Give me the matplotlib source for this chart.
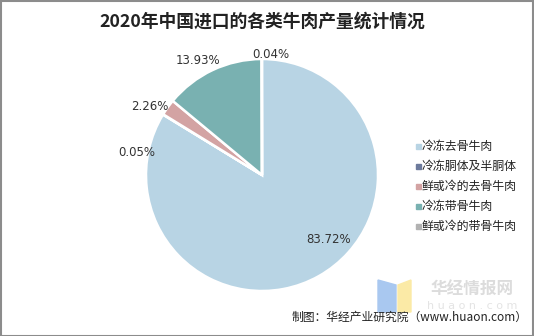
import matplotlib.pyplot as plt
from matplotlib.patches import Rectangle, Polygon

plt.rcParams['font.family'] = ['Noto Sans CJK SC', 'DejaVu Sans']

# data
categories = ['冷冻去骨牛肉', '冷冻胴体及半胴体', '鲜或冷的去骨牛肉', '冷冻带骨牛肉', '鲜或冷的带骨牛肉']
shares = [83.72, 0.05, 2.26, 13.93, 0.04]
colors = ['#b8d4e4', '#6c7a9c', '#d3a3a3', '#79b1b1', '#b2b2b2']
# label spots (pie radius = 1)
label_pos = [(0.57, -0.56), (-1.08, 0.19), (-0.97, 0.59), (-0.55, 0.99), (0.08, 1.04)]

fig = plt.figure(figsize=(5.34, 3.36), dpi=100)
W, H = 534, 336
r_px = 116
cx, cy = 262, 175
half = r_px * 1.25
ax = fig.add_axes([(cx - half) / W, (H - cy - half) / H, 2 * half / W, 2 * half / H])

wedges, _ = ax.pie(shares, colors=colors, startangle=90, counterclock=False, radius=1,
                   wedgeprops=dict(edgecolor='white', linewidth=1.8))
ax.set_xlim(-1.25, 1.25)
ax.set_ylim(-1.25, 1.25)
ax.set_aspect('equal')
ax.axis('off')

for val, (x, y) in zip(shares, label_pos):
    ax.text(x, y, f'{val:.2f}%', ha='center', va='center', fontsize=8.5,
            color='#333333', family='DejaVu Sans')

# legend
for i, (name, c) in enumerate(zip(categories, colors)):
    ypx = 146 + i * 20
    fig.patches.append(Rectangle((416 / W, 1 - (ypx + 2.5) / H), 5 / W, 5 / H,
                                 transform=fig.transFigure, color=c))
    fig.text(422 / W, 1 - ypx / H, name, fontsize=8.6, va='center', ha='left', color='#222222')

fig.text(262 / W, 1 - 22 / H, '2020年中国进口的各类牛肉产量统计情况', ha='center', va='center',
         fontsize=12.8, fontweight='bold', color='#222222')

# watermark
fig.patches.append(Polygon([(378 / W, 1 - 280 / H), (396 / W, 1 - 285 / H), (396 / W, 1 - 312 / H), (378 / W, 1 - 312 / H)],
                           closed=True, transform=fig.transFigure, color='#a9c8f0'))
fig.patches.append(Polygon([(398 / W, 1 - 285 / H), (411 / W, 1 - 280 / H), (411 / W, 1 - 312 / H), (398 / W, 1 - 312 / H)],
                           closed=True, transform=fig.transFigure, color='#fbeaa6'))
fig.text(472 / W, 1 - 290 / H, '华经情报网', ha='center', va='center', fontsize=12,
         fontweight='bold', color='#dcdcdc')
fig.text(472 / W, 1 - 306 / H, 'h u a o n . c o m', ha='center', va='center', fontsize=8,
         color='#e4e4e4', family='DejaVu Sans')

fig.text(528 / W, 1 - 317 / H, '制图：华经产业研究院（www.huaon.com）', ha='right', va='center',
         fontsize=8.5, color='#222222')

# outer frame
fig.patches.append(Rectangle((0.5 / W, 0.5 / H), 1 - 1.5 / W, 1 - 1.5 / H, transform=fig.transFigure,
                             fill=False, edgecolor='#8c8c8c', linewidth=1.5))

fig.savefig('out.png', dpi=100)
